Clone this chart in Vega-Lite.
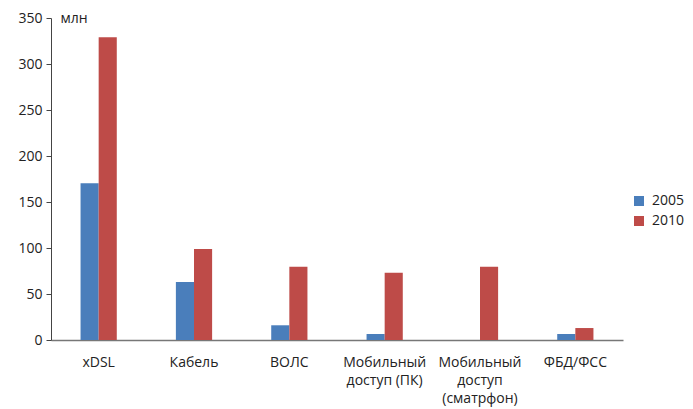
{
  "$schema": "https://vega.github.io/schema/vega-lite/v6.json",
  "width": 572,
  "height": 322,
  "autosize": "none",
  "padding": {"left": 51, "top": 18, "right": 70, "bottom": 69},
  "background": "white",
  "config": {
    "view": {"stroke": null},
    "font": "Open Sans",
    "axis": {"labelFont": "Open Sans", "labelColor": "#222", "titleFont": "Open Sans"},
    "legend": {"labelFont": "Open Sans"}
  },
  "data": {
    "values": [
      {"cat": "xDSL", "year": "2005", "value": 170.5},
      {"cat": "xDSL", "year": "2010", "value": 329},
      {"cat": "Кабель", "year": "2005", "value": 63},
      {"cat": "Кабель", "year": "2010", "value": 99},
      {"cat": "ВОЛС", "year": "2005", "value": 16},
      {"cat": "ВОЛС", "year": "2010", "value": 79.5},
      {"cat": "Мобильный|доступ (ПК)", "year": "2005", "value": 6.5},
      {"cat": "Мобильный|доступ (ПК)", "year": "2010", "value": 73},
      {"cat": "Мобильный|доступ|(сматрфон)", "year": "2005", "value": 0},
      {"cat": "Мобильный|доступ|(сматрфон)", "year": "2010", "value": 79.5},
      {"cat": "ФБД/ФСС", "year": "2005", "value": 6.5},
      {"cat": "ФБД/ФСС", "year": "2010", "value": 13}
    ]
  },
  "mark": {"type": "bar"},
  "encoding": {
    "x": {
      "field": "cat",
      "type": "nominal",
      "sort": null,
      "scale": {"paddingInner": 0.62, "paddingOuter": 0.31},
      "axis": {
        "title": null,
        "labelAngle": 0,
        "labelExpr": "split(datum.label, '|')",
        "labelFontSize": 14,
        "labelPadding": 15,
        "labelLineHeight": 18,
        "ticks": false,
        "domainColor": "#777",
        "domainWidth": 1.5,
        "labelBaseline": "top"
      }
    },
    "xOffset": {"field": "year", "type": "nominal", "scale": {"paddingInner": 0, "paddingOuter": 0}},
    "y": {
      "field": "value",
      "type": "quantitative",
      "scale": {"domain": [0, 350], "nice": false},
      "axis": {
        "title": "млн",
        "titleAngle": 0,
        "titleAlign": "left",
        "titleBaseline": "middle",
        "titleX": 9,
        "titleY": 0,
        "titleFontSize": 14,
        "titleFontWeight": "normal",
        "titleColor": "#222",
        "values": [0, 50, 100, 150, 200, 250, 300, 350],
        "labelFontSize": 14,
        "labelPadding": 4,
        "grid": false,
        "tickSize": 5,
        "tickColor": "#444",
        "domainColor": "#444",
        "domainWidth": 1
      }
    },
    "color": {
      "field": "year",
      "type": "nominal",
      "scale": {"domain": ["2005", "2010"], "range": ["#4A7EBB", "#BE4B48"]},
      "legend": {
        "title": null,
        "orient": "none",
        "legendX": 581,
        "legendY": 176,
        "symbolType": "square",
        "symbolSize": 100,
        "symbolStrokeWidth": 0,
        "labelFontSize": 14,
        "labelColor": "#222",
        "rowPadding": 6,
        "labelOffset": 6
      }
    }
  }
}
